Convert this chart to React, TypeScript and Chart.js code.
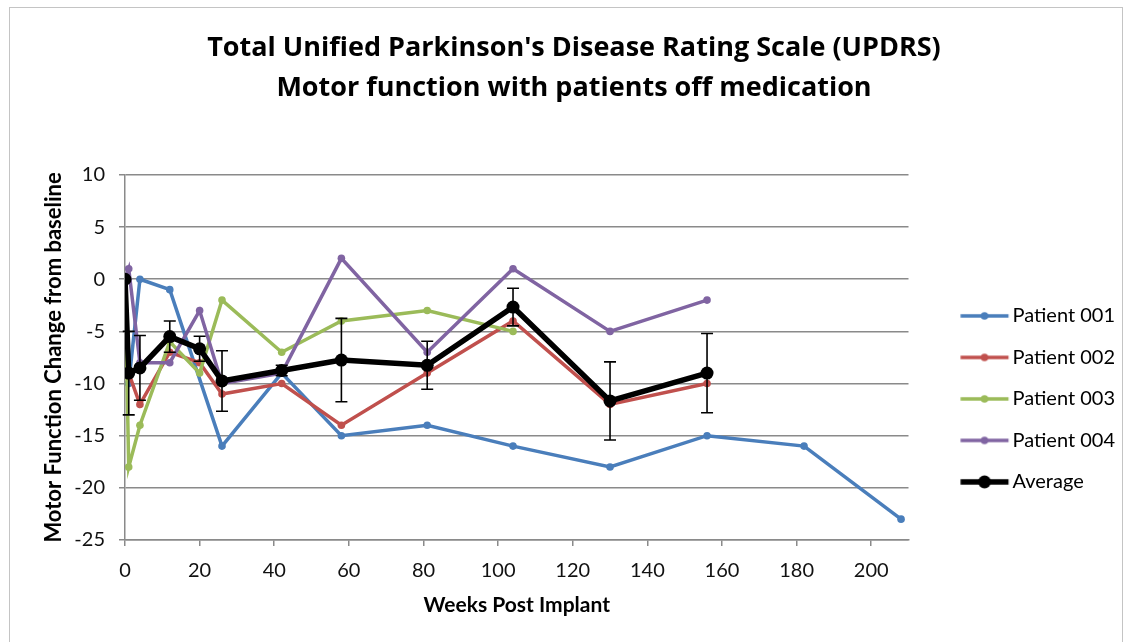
import { useEffect, useRef } from "react";
import { Chart, registerables } from "chart.js";

Chart.register(...registerables);

// ---- Data ----
const seriesNames = ["Patient 001", "Patient 002", "Patient 003", "Patient 004", "Average"];

const weeks001 = [0, 1, 4, 12, 26, 42, 58, 81, 104, 130, 156, 182, 208];
const values001 = [0, -10, 0, -1, -16, -9, -15, -14, -16, -18, -15, -16, -23];

const weeks002 = [0, 1, 4, 12, 20, 26, 42, 58, 81, 104, 130, 156];
const values002 = [0, -9, -12, -7, -8, -11, -10, -14, -9, -4, -12, -10];

const weeks003 = [0, 1, 4, 12, 20, 26, 42, 58, 81, 104];
const values003 = [0, -18, -14, -6, -9, -2, -7, -4, -3, -5];

const weeks004 = [0, 1, 4, 12, 20, 26, 42, 58, 81, 104, 130, 156];
const values004 = [0, 1, -8, -8, -3, -10, -9, 2, -7, 1, -5, -2];

const weeksAvg = [0, 1, 4, 12, 20, 26, 42, 58, 81, 104, 130, 156];
const valuesAvg = [0, -9, -8.5, -5.5, -6.67, -9.75, -8.75, -7.75, -8.25, -2.67, -11.67, -9];
const errorsAvg = [0, 4, 3.1, 1.5, 1.2, 2.9, 0.5, 4.0, 2.3, 1.8, 3.75, 3.8];

const titleLines = [
  "Total Unified Parkinson's Disease Rating Scale (UPDRS)",
  "Motor function with patients off medication",
];
const xTitle = "Weeks Post Implant";
const yTitle = "Motor Function Change from baseline";

const colors = ["#4a7ebb", "#c0504d", "#9bbb59", "#8064a2", "#000000"];

const FONT = "Lato";
const TITLE_FONT = "Open Sans";

function toPoints(xs: number[], ys: number[]) {
  return xs.map((x, i) => ({ x, y: ys[i] }));
}

// legend geometry
const LEGEND_PAD = 21.5;
const LEGEND_BOX_W = 72.5;
const ICON_W = 88;
const ICON_H = 18;

function makeIcon(color: string, lw: number, r: number) {
  const c = document.createElement("canvas");
  c.width = ICON_W;
  c.height = ICON_H;
  const ctx = c.getContext("2d")!;
  const mid = ICON_W / 2;
  const x0 = mid - 5.75;
  const x1 = mid + 42.25;
  ctx.strokeStyle = color;
  ctx.lineWidth = lw;
  ctx.beginPath();
  ctx.moveTo(x0, ICON_H / 2);
  ctx.lineTo(x1, ICON_H / 2);
  ctx.stroke();
  ctx.fillStyle = color;
  ctx.beginPath();
  ctx.arc((x0 + x1) / 2, ICON_H / 2, r, 0, Math.PI * 2);
  ctx.fill();
  return c;
}

const errorBarPlugin = {
  id: "errorBars",
  afterDatasetsDraw(chart: any) {
    const xs = chart.scales.x;
    const ys = chart.scales.y;
    const ctx = chart.ctx;
    ctx.save();
    ctx.strokeStyle = "#000";
    ctx.lineWidth = 1.6;
    weeksAvg.forEach((w, i) => {
      const e = errorsAvg[i];
      if (!e) return;
      const px = xs.getPixelForValue(w);
      const top = ys.getPixelForValue(valuesAvg[i] + e);
      const bot = ys.getPixelForValue(valuesAvg[i] - e);
      ctx.beginPath();
      ctx.moveTo(px, top);
      ctx.lineTo(px, bot);
      ctx.moveTo(px - 6, top);
      ctx.lineTo(px + 6, top);
      ctx.moveTo(px - 6, bot);
      ctx.lineTo(px + 6, bot);
      ctx.stroke();
    });
    ctx.restore();
  },
};

export default function App() {
  const ref = useRef<HTMLCanvasElement | null>(null);

  useEffect(() => {
    if (!ref.current) return;
    const icons = [
      makeIcon(colors[0], 3.5, 3.8),
      makeIcon(colors[1], 3.5, 3.8),
      makeIcon(colors[2], 3.5, 3.8),
      makeIcon(colors[3], 3.5, 3.8),
      makeIcon(colors[4], 5.5, 6.5),
    ];
    const xsets = [weeks001, weeks002, weeks003, weeks004, weeksAvg];
    const ysets = [values001, values002, values003, values004, valuesAvg];
    const datasets = seriesNames.map((name, i) => {
      const isAvg = i === 4;
      return {
        label: name,
        data: toPoints(xsets[i], ysets[i]),
        showLine: true,
        borderColor: colors[i],
        backgroundColor: colors[i],
        pointBackgroundColor: colors[i],
        pointBorderColor: colors[i],
        borderWidth: isAvg ? 5.5 : 3.5,
        pointRadius: isAvg ? 6.5 : 3.8,
        pointBorderWidth: 0,
        order: 5 - i,
        tension: 0,
      };
    });

    const chart = new Chart(ref.current, {
      type: "scatter",
      data: { datasets },
      plugins: [errorBarPlugin],
      options: {
        responsive: false,
        animation: false,
        layout: { padding: { left: 23, right: 5, top: 0, bottom: 0 } },
        plugins: {
          tooltip: { enabled: false },
          title: {
            display: true,
            text: titleLines,
            color: "#000",
            font: { family: TITLE_FONT, size: 27, weight: "bold", lineHeight: 1.48 },
            padding: { top: 28, bottom: 67 },
          },
          legend: {
            display: true,
            position: "right",
            align: "start",
            fullSize: false,
            title: {
              display: true,
              text: "",
              font: { size: 1, lineHeight: 1 },
              padding: { top: 108.5, bottom: 0 },
            },
            labels: {
              usePointStyle: true,
              pointStyleWidth: LEGEND_BOX_W,
              padding: LEGEND_PAD,
              color: "#000",
              font: { family: FONT, size: 20 },
              sort: (a: any, b: any) => a.datasetIndex - b.datasetIndex,
              generateLabels: (ch: any) => {
                const items = (Chart.defaults.plugins.legend.labels as any).generateLabels(ch);
                return items.map((it: any) => ({ ...it, pointStyle: icons[it.datasetIndex] }));
              },
            },
          },
        },
        scales: {
          x: {
            type: "linear",
            min: 0,
            max: 210,
            afterFit: (s: any) => {
              s.height = 102;
            },
            ticks: {
              stepSize: 20,
              includeBounds: false,
              color: "#111",
              font: { family: FONT, size: 20 },
              padding: 13,
              maxRotation: 0,
            },
            grid: {
              display: true,
              drawOnChartArea: false,
              drawTicks: true,
              tickLength: 6,
              color: "#8a8a8a",
              lineWidth: 1.5,
            },
            border: { display: true, color: "#8a8a8a", width: 1.5 },
            title: {
              display: true,
              text: xTitle,
              color: "#000",
              font: { family: FONT, size: 21, weight: "bold" },
              padding: { top: 0, bottom: 24 },
            },
          },
          y: {
            type: "linear",
            min: -25,
            max: 10,
            afterFit: (s: any) => {
              s.width = 102;
            },
            ticks: {
              stepSize: 5,
              color: "#111",
              font: { family: FONT, size: 20 },
              padding: 14,
            },
            grid: {
              display: true,
              drawTicks: true,
              tickLength: 6,
              color: "#8a8a8a",
              lineWidth: 1.5,
            },
            border: { display: true, color: "#8a8a8a", width: 1.5 },
            title: {
              display: true,
              text: yTitle,
              color: "#000",
              font: { family: FONT, size: 22, weight: "bold" },
              padding: { top: 18, bottom: 0 },
            },
          },
        },
      } as any,
    });
    return () => chart.destroy();
  }, []);

  return (
    <div
      style={{
        position: "fixed",
        left: 0,
        top: 0,
        width: 1130,
        height: 642,
        background: "#fff",
        overflow: "hidden",
      }}
    >
      <div
        style={{
          position: "absolute",
          left: 9,
          top: 7,
          width: 1114,
          height: 700,
          border: "1.5px solid #c4c4c4",
          boxSizing: "border-box",
        }}
      />
      <canvas
        ref={ref}
        width={1130}
        height={642}
        style={{ position: "absolute", left: 0, top: 0, width: 1130, height: 642 }}
      />
    </div>
  );
}
